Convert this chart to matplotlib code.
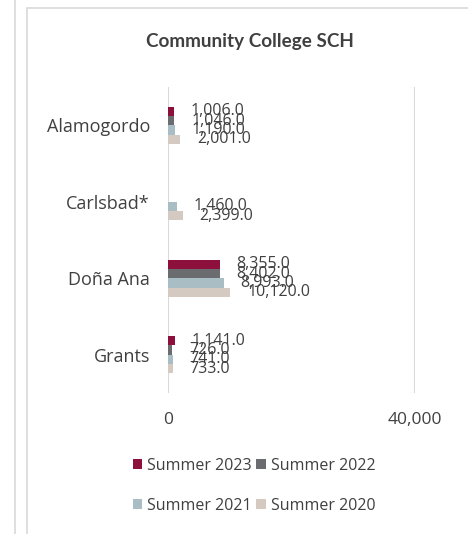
import matplotlib
matplotlib.use('Agg')
import matplotlib.pyplot as plt
import matplotlib.patches as mpatches
import numpy as np

# Data
campuses = ['Alamogordo', 'Carlsbad*', 'Doña Ana', 'Grants']
series_names = ['Summer 2023', 'Summer 2022', 'Summer 2021', 'Summer 2020']
summer_2023 = [1006.0, np.nan, 8355.0, 1141.0]
summer_2022 = [1046.0, np.nan, 8402.0, 726.0]
summer_2021 = [1190.0, 1460.0, 8993.0, 741.0]
summer_2020 = [2001.0, 2399.0, 10120.0, 733.0]
x_ticks = [0, 40000]

COLORS = ['#8C0F3C', '#6B6C70', '#A8BDC4', '#D4CAC2']
TEXT = '#404040'
FRAME = '#D9D9D9'

plt.rcParams['font.family'] = ['Open Sans', 'DejaVu Sans']

fig = plt.figure(figsize=(4.68, 5.34), dpi=100)
fig.patch.set_facecolor('white')

# card frames (neighbouring panel edge + this chart's border)
fig.add_artist(plt.Line2D([15 / 468, 15 / 468], [0, 1], color=FRAME, lw=1.2,
                          transform=fig.transFigure))
fig.add_artist(mpatches.Rectangle((27 / 468, -0.1), 1.0, 1 - 8 / 534 + 0.1,
                                  fill=False, edgecolor=FRAME, lw=1.2,
                                  transform=fig.transFigure))

ax = fig.add_axes([168 / 468, 1 - 393 / 534, (415 - 168) / 468, (393 - 87) / 534])

all_series = [summer_2023, summer_2022, summer_2021, summer_2020]
n = len(all_series)
bar_h = 0.122
y = np.arange(len(campuses))
handles = []
for i, (vals, name, col) in enumerate(zip(all_series, series_names, COLORS)):
    pos = y + (i - (n - 1) / 2) * bar_h
    bars = ax.barh(pos, vals, height=bar_h, color=col, label=name)
    handles.append(bars)
    for b, v in zip(bars, vals):
        if np.isnan(v):
            continue
        ax.annotate(f'{v:,.1f}', xy=(v, b.get_y() + b.get_height() / 2),
                    xytext=(12, 0), textcoords='offset points',
                    ha='left', va='center', fontsize=11.5, color=TEXT)

ax.set_ylim(len(campuses) - 0.5, -0.5)
ax.set_xlim(0, 40000)
ax.set_yticks(y)
ax.set_yticklabels(campuses, fontsize=13, color=TEXT)
ax.set_xticks(x_ticks)
ax.set_xticklabels([f'{t:,}' for t in x_ticks], fontsize=12.5, color=TEXT)
ax.tick_params(axis='both', length=0)
ax.tick_params(axis='y', pad=13)
ax.tick_params(axis='x', pad=14)

ax.xaxis.grid(True, color=FRAME, lw=1.5)
ax.set_axisbelow(True)
for s in ['top', 'right', 'bottom', 'left']:
    ax.spines[s].set_visible(False)

fig.text(250 / 468, 1 - 42 / 534, 'Community College SCH', ha='center', va='center',
         fontsize=13.6, fontweight='bold', color=TEXT, family=['Lato', 'DejaVu Sans'])

# legend fills column-first, so reorder to read row by row
order = [0, 2, 1, 3]
fig.legend([handles[k] for k in order], [series_names[k] for k in order],
           loc='center', bbox_to_anchor=(254 / 468, 1 - 486 / 534),
           ncol=2, frameon=False, fontsize=11.5, handlelength=0.6, handleheight=0.6,
           handletextpad=0.3, columnspacing=0.3, labelspacing=1.5,
           labelcolor=TEXT)

plt.savefig('out.png', dpi=100, facecolor='white')
plt.close()
